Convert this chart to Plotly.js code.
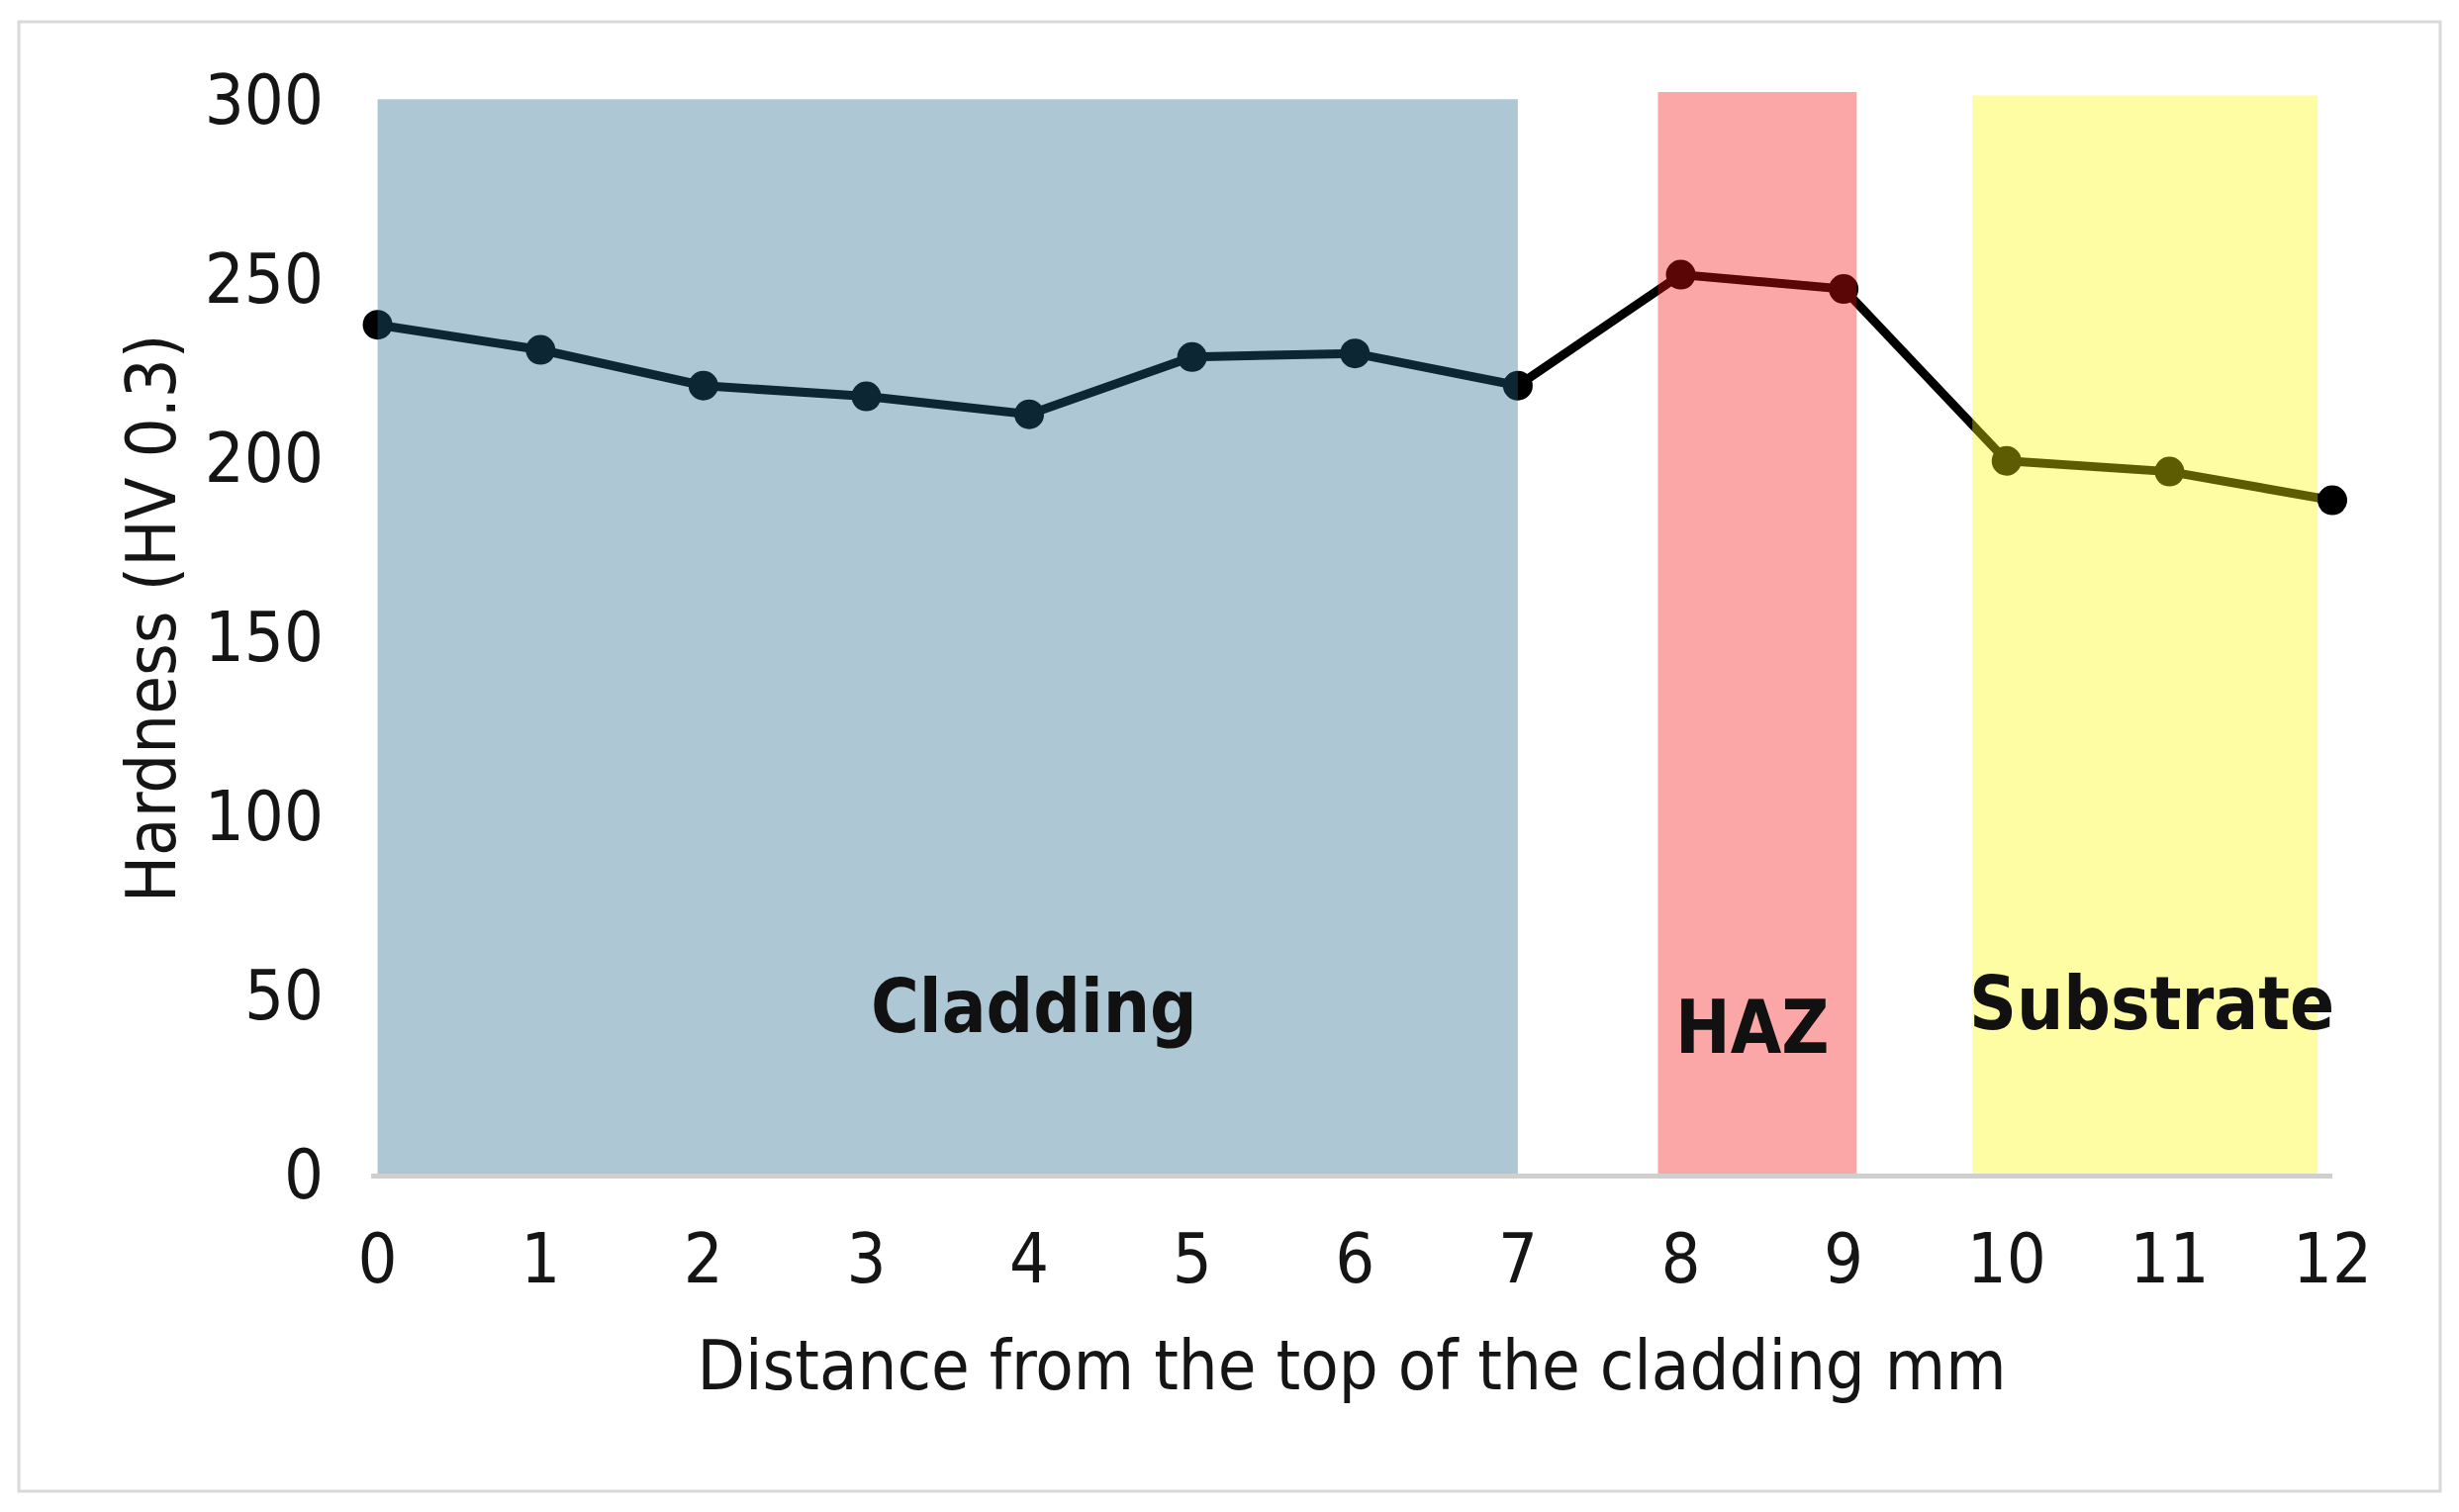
<!DOCTYPE html>
<html>
<head>
<meta charset="utf-8">
<script src="https://cdn.plot.ly/plotly-3.0.1.min.js"></script>
<style>html,body{margin:0;padding:0;background:#fff;}#chart{width:2485px;height:1528px;}</style>
</head>
<body>
<div id="chart"></div>
<script>
// Data
const distance = [0, 1, 2, 3, 4, 5, 6, 7, 8, 9, 10, 11, 12];
const hardness = [237, 230, 220, 217, 212, 228, 229, 220, 251, 247, 199, 196, 188];

const zoneNames = ["Cladding", "HAZ", "Substrate"];
const zoneStart = [0, 7.86, 9.79];
const zoneEnd = [7, 9.08, 11.91];
const zoneTop = [300, 302, 301];
const zoneColors = ["rgb(36,104,140)", "rgb(244,17,17)", "rgb(252,249,6)"];
const labelX = [4.03, 8.44, 10.89];
const labelY = [46.7, 40.9, 47.5];

const xTicks = [0, 1, 2, 3, 4, 5, 6, 7, 8, 9, 10, 11, 12];
const yTicks = [0, 50, 100, 150, 200, 250, 300];

const FONT = "'DejaVu Sans Condensed', 'DejaVu Sans', sans-serif";
const TXT = "#151515";

const trace = {
  x: distance,
  y: hardness,
  type: "scatter",
  mode: "lines+markers",
  line: {color: "#000000", width: 9},
  marker: {color: "#000000", size: 30},
  cliponaxis: false,
  hoverinfo: "skip"
};

const shapes = zoneNames.map((n, i) => ({
  type: "rect", xref: "x", yref: "y",
  x0: zoneStart[i], x1: zoneEnd[i], y0: 0, y1: zoneTop[i],
  fillcolor: zoneColors[i], opacity: 0.37, line: {width: 0}, layer: "above"
}));
// outer frame
shapes.push({
  type: "rect", xref: "paper", yref: "paper",
  x0: -0.1796, x1: 1.055, y0: -0.286, y1: 1.0374,
  line: {color: "#d9d9d9", width: 3}, fillcolor: "rgba(0,0,0,0)", layer: "below"
});

const annotations = zoneNames.map((n, i) => ({
  x: labelX[i], y: labelY[i], xref: "x", yref: "y",
  text: n, showarrow: false,
  font: {family: FONT, size: 74, color: "#111111", weight: "bold"}
}));

const layout = {
  width: 2485, height: 1528,
  paper_bgcolor: "#ffffff", plot_bgcolor: "#ffffff",
  margin: {l: 375, r: 128, t: 64, b: 342, pad: 0},
  showlegend: false,
  font: {family: FONT, size: 70, color: TXT},
  xaxis: {
    range: [-0.04, 12], tickvals: xTicks, ticktext: xTicks.map(String),
    showgrid: false, zeroline: false,
    showline: true, linecolor: "#cfcfcf", linewidth: 5,
    ticks: "outside", ticklen: 21, tickcolor: "rgba(0,0,0,0)",
    tickfont: {family: FONT, size: 70, color: TXT},
    title: {text: "Distance from the top of the cladding mm", standoff: 44,
            font: {family: FONT, size: 70, color: TXT}},
    automargin: false, fixedrange: true
  },
  yaxis: {
    range: [0, 310], tickvals: yTicks, ticktext: yTicks.map(String),
    showgrid: false, zeroline: false, showline: false,
    ticks: "outside", ticklen: 33, tickcolor: "rgba(0,0,0,0)",
    tickfont: {family: FONT, size: 70, color: TXT},
    title: {text: "Hardness (HV 0.3)", standoff: 6,
            font: {family: FONT, size: 70, color: TXT}},
    automargin: false, fixedrange: true
  },
  shapes: shapes,
  annotations: annotations
};

Plotly.newPlot("chart", [trace], layout, {displayModeBar: false, staticPlot: true});
</script>
</body>
</html>
